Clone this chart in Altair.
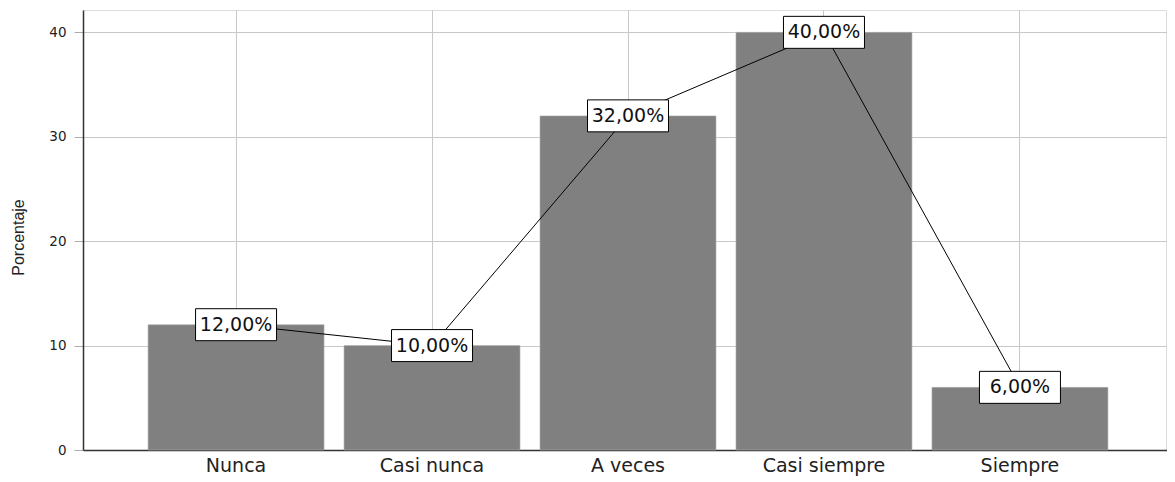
import altair as alt
import pandas as pd

categories = ["Nunca", "Casi nunca", "A veces", "Casi siempre", "Siempre"]
values = [12, 10, 32, 40, 6]
labels = ["12,00%", "10,00%", "32,00%", "40,00%", "6,00%"]

df = pd.DataFrame({"cat": categories, "val": values, "lab": labels, "order": range(5)})

FONT = "DejaVu Sans"

x = alt.X("cat:N", sort=categories, title=None,
          scale=alt.Scale(paddingInner=0.102, paddingOuter=0.332, range=[0, 1090]),
          axis=alt.Axis(labelAngle=0, labelFontSize=19, labelFont=FONT, labelColor="#222222",
                        labelPadding=6, ticks=False, domain=True, domainColor="#333333",
                        domainWidth=1.5, grid=True,
                        gridColor="#c8c8c8", gridWidth=1, bandPosition=0.5))
y = alt.Y("val:Q", title="Porcentaje",
          scale=alt.Scale(domain=[0, 42.14], nice=False, zero=True),
          axis=alt.Axis(values=[0, 10, 20, 30, 40], labelFontSize=13.5, labelFont=FONT,
                        labelColor="#222222", tickSize=9, tickColor="#aaaaaa", labelPadding=8,
                        domain=True, domainColor="#333333", domainWidth=1.5,
                        grid=True, gridColor="#c8c8c8", gridWidth=1,
                        titleFont="Liberation Sans", titleFontSize=16,
                        titleFontWeight="normal", titleColor="#222222",
                        titleX=-65, titleY=227, titleAngle=-90, titleAlign="center",
                        titleBaseline="middle"))

bars = alt.Chart(df).mark_bar(color="#808080", stroke="#b0b0b0", strokeWidth=0.6).encode(x=x, y=y)

line = alt.Chart(df).mark_line(color="#000000", strokeWidth=1).encode(
    x=alt.X("cat:N", sort=categories), y=alt.Y("val:Q"), order="order:Q")

boxes = alt.Chart(df).mark_point(
    shape="M-1,-0.395L1,-0.395L1,0.395L-1,0.395Z", size=81 * 81, filled=True,
    fill="white", stroke="#000000", strokeWidth=1, opacity=1).encode(
    x=alt.X("cat:N", sort=categories), y=alt.Y("val:Q"))

text = alt.Chart(df).mark_text(fontSize=19, font=FONT, color="#111111",
                               align="center", baseline="middle").encode(
    x=alt.X("cat:N", sort=categories), y=alt.Y("val:Q"), text="lab:N")

chart = alt.layer(bars, line, boxes, text).properties(
    width=1083, height=440,
    autosize=alt.AutoSizeParams(type="none"),
    padding={"left": 75, "top": 2, "right": 1, "bottom": 30},
).configure_view(stroke="#555555", strokeWidth=1.5).configure(background="white")

chart.save("out.html", embed_options={"renderer": "svg", "actions": False})
